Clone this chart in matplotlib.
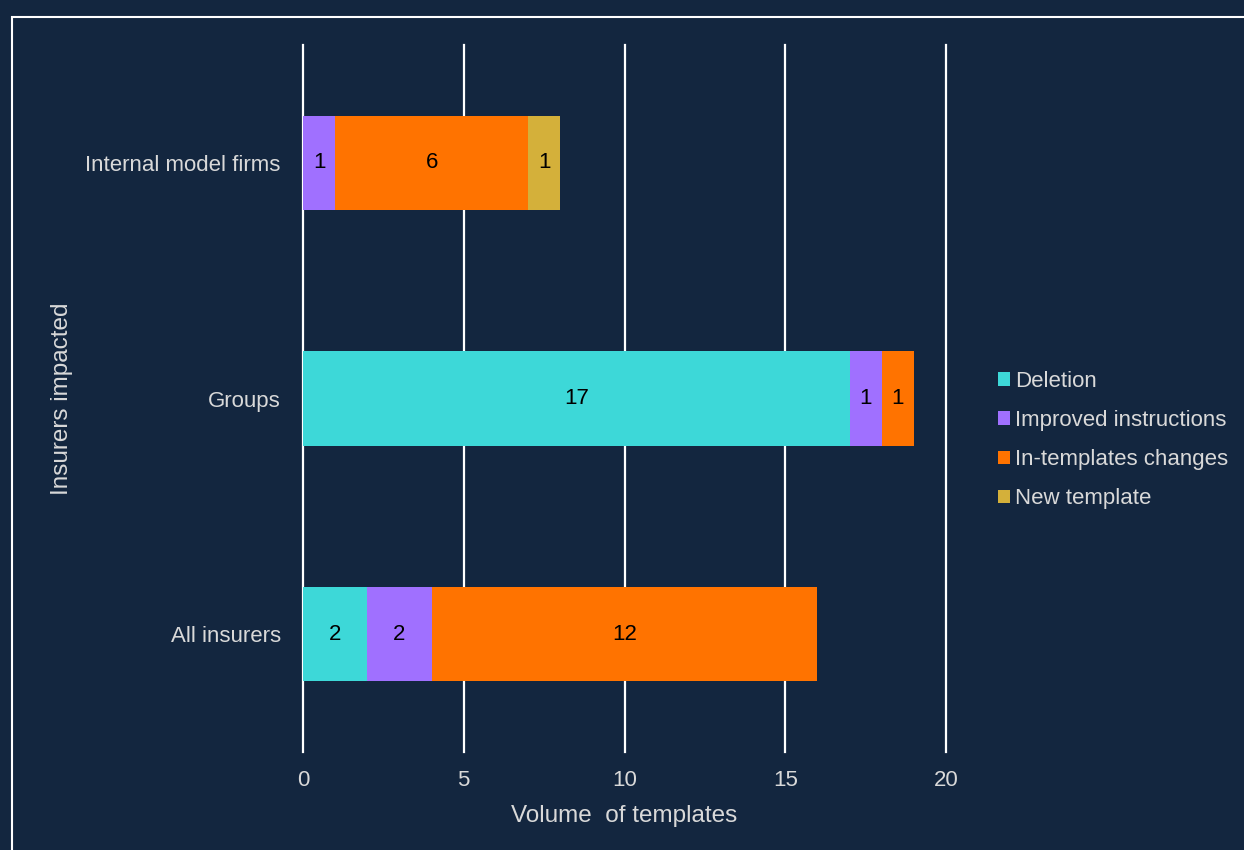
import matplotlib
matplotlib.use("Agg")
import matplotlib.pyplot as plt
from matplotlib.patches import Rectangle
import numpy as np

plt.rcParams['font.family'] = ['Liberation Sans', 'DejaVu Sans']

categories = ["All insurers", "Groups", "Internal model firms"]
series_names = ["Deletion", "Improved instructions", "In-templates changes", "New template"]
deletion = [2, 17, 0]
improved = [2, 1, 1]
in_templates = [12, 1, 6]
new_template = [0, 0, 1]
series_values = [deletion, improved, in_templates, new_template]
colors = ["#3dd8d8", "#a070ff", "#ff7300", "#d4b03a"]
xticks = [0, 5, 10, 15, 20]

bg = "#13263f"
txt = "#d9d9d9"

fig = plt.figure(figsize=(12.44, 8.5), dpi=100, facecolor=bg)
ax = fig.add_axes([303/1244, 1-752/850, (946-303)/1244, (752-45)/850])
ax.set_facecolor(bg)

y = np.arange(len(categories))
left = np.zeros(len(categories))
for name, vals, c in zip(series_names, series_values, colors):
    vals = np.array(vals, dtype=float)
    bars = ax.barh(y, vals, left=left, height=0.4, color=c, label=name, zorder=3)
    for b, v in zip(bars, vals):
        if v > 0:
            ax.text(b.get_x() + b.get_width()/2, b.get_y() + b.get_height()/2,
                    f"{int(v)}", ha="center", va="center", fontsize=16, color="black", zorder=4)
    left += vals

ax.set_xlim(0, 20)
ax.set_ylim(-0.5, 2.5)
ax.set_xticks(xticks)
ax.set_yticks(y)
ax.set_yticklabels(categories)
ax.grid(axis="x", color="white", linewidth=1.6, zorder=1)
for gl in ax.get_xgridlines():
    gl.set_clip_on(False)
for s in ax.spines.values():
    s.set_visible(False)
ax.tick_params(length=0, colors=txt, labelsize=16)
ax.tick_params(axis="x", pad=13)
ax.tick_params(axis="y", pad=16)
ax.set_xlabel("Volume  of templates", color=txt, fontsize=17.5, labelpad=10)
ax.set_ylabel("Insurers impacted", color=txt, fontsize=17.5, labelpad=9)

handles, labels = ax.get_legend_handles_labels()
leg = fig.legend(handles, labels, loc="center left", bbox_to_anchor=(987/1244, 1-440/850),
                 frameon=False, fontsize=16, handlelength=0.55, handleheight=0.55,
                 handletextpad=0.2, labelspacing=0.82, borderpad=0)
for t in leg.get_texts():
    t.set_color(txt)

fig.add_artist(Rectangle((12/1244, -0.1), 1.2, 1-17/850+0.1, transform=fig.transFigure,
                         fill=False, edgecolor="white", linewidth=1.5))

fig.savefig("out.png", dpi=100, facecolor=bg)
